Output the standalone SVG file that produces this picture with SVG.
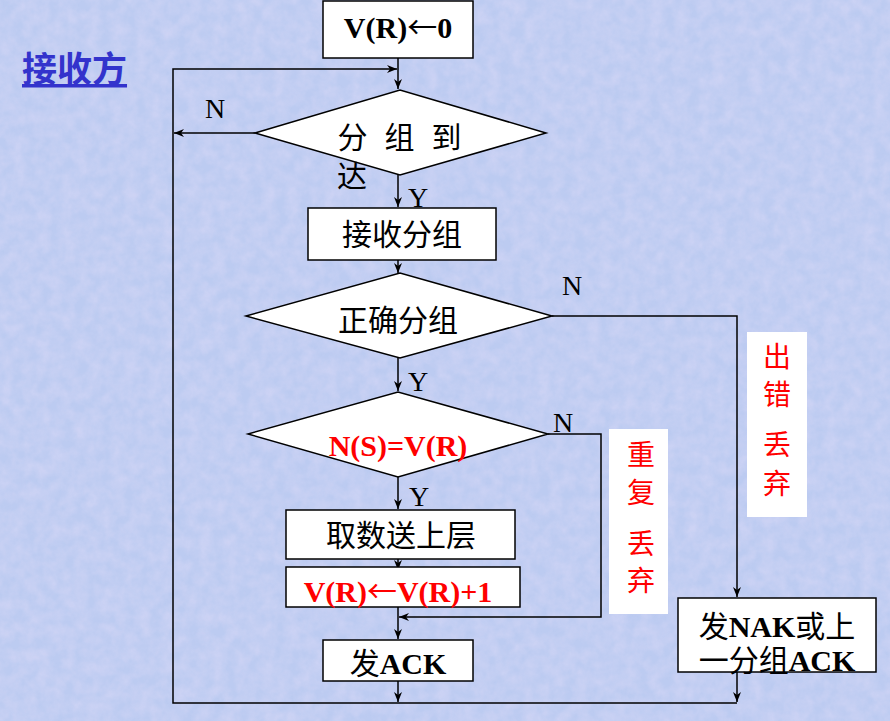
<svg xmlns="http://www.w3.org/2000/svg" width="890" height="721" viewBox="0 0 890 721">
<style>
.bx{fill:#fff;stroke:#000;stroke-width:1.5}
.ln{fill:none;stroke:#000;stroke-width:1.5}
.t{font-family:"Liberation Serif","Noto Sans CJK SC",serif;font-size:30px;fill:#000;text-anchor:middle}
.b{font-weight:bold}
.r{fill:#f00}
.ar{font-family:"Noto Sans CJK SC",sans-serif;font-weight:normal}
.yn{font-family:"Liberation Serif",serif;font-size:28px;fill:#000}
.cj{font-family:"Noto Sans CJK SC",serif;font-size:28px;fill:#f00;text-anchor:middle}
</style>
<defs>
<filter id="tex" x="0" y="0" width="100%" height="100%">
<feTurbulence type="fractalNoise" baseFrequency="0.08" numOctaves="3" seed="4"/>
<feColorMatrix type="matrix" values="0 0 0 0 0.80  0 0 0 0 0.74  0 0 0 0 0.95  0 0 0 1.2 -0.3"/>
</filter>
<marker id="ar" markerWidth="10" markerHeight="10" refX="10" refY="5" orient="auto" markerUnits="userSpaceOnUse">
<path d="M0,1 L10,5 L0,9 L3,5 z" fill="#000"/>
</marker>
</defs>
<rect width="890" height="721" fill="#bccbf1"/>
<rect width="890" height="721" filter="url(#tex)" opacity="0.5"/>
<text x="22" y="82" style="font-family:'Noto Sans CJK SC',serif;font-size:35px;font-weight:bold;fill:#3333cc;text-decoration:underline">接收方</text>

<g id="connectors">
<path class="ln" d="M398,58 L398,89" marker-end="url(#ar)"/>
<path class="ln" d="M737,703 L173,703 L173,69 L397,69" marker-end="url(#ar)"/>
<path class="ln" d="M255,133 L174,133" marker-end="url(#ar)"/>
<path class="ln" d="M398,175 L398,207" marker-end="url(#ar)"/>
<path class="ln" d="M398,243 L398,273" marker-end="url(#ar)"/>
<path class="ln" d="M398,358 L398,391" marker-end="url(#ar)"/>
<path class="ln" d="M552,316 L737,316 L737,597" marker-end="url(#ar)"/>
<path class="ln" d="M398,477 L398,509" marker-end="url(#ar)"/>
<path class="ln" d="M398,543 L398,570" marker-end="url(#ar)"/>
<path class="ln" d="M548,434 L601,434 L601,617 L399,617" marker-end="url(#ar)"/>
<path class="ln" d="M398,607 L398,639" marker-end="url(#ar)"/>
<path class="ln" d="M398,672 L398,702" marker-end="url(#ar)"/>
<path class="ln" d="M737,672 L737,702" marker-end="url(#ar)"/>
</g>

<g id="init">
<rect class="bx" x="323" y="1" width="150" height="57"/>
<text class="t b" x="398" y="38"><tspan>V(R)</tspan><tspan class="ar">←</tspan><tspan>0</tspan></text>
</g>

<g id="d1">
<polygon class="bx" points="255,133 400,90 546,133 400,175"/>
<text class="t" x="408" y="148" style="letter-spacing:17px">分组到</text>
<text class="t" x="352" y="187">达</text>
</g>
<text class="yn" x="205" y="118">N</text>
<text class="yn" x="408" y="207">Y</text>

<g id="recv">
<rect class="bx" x="308" y="208" width="188" height="52"/>
<text class="t" x="402" y="245">接收分组</text>
</g>

<g id="d2">
<polygon class="bx" points="246,316 400,273 552,316 400,358"/>
<text class="t" x="398" y="331">正确分组</text>
</g>
<text class="yn" x="562" y="295">N</text>
<text class="yn" x="408" y="391">Y</text>

<g id="d3">
<polygon class="bx" points="248,434 398,392 548,434 398,477"/>
<text class="t b r" x="398" y="456">N(S)=V(R)</text>
</g>
<text class="yn" x="553" y="432">N</text>
<text class="yn" x="409" y="506">Y</text>

<g id="deliver">
<rect class="bx" x="286" y="510" width="229" height="49"/>
<text class="t" x="401" y="546">取数送上层</text>
</g>

<g id="inc">
<rect class="bx" x="286" y="567" width="234" height="40"/>
<text class="t b r" x="398" y="602"><tspan>V(R)</tspan><tspan class="ar">←</tspan><tspan>V(R)+1</tspan></text>
</g>

<g id="ack">
<rect class="bx" x="323" y="640" width="150" height="41"/>
<text class="t" x="398" y="674"><tspan>发</tspan><tspan class="b">ACK</tspan></text>
</g>

<g id="nak">
<rect class="bx" x="678" y="598" width="198" height="74"/>
<text class="t" x="777" y="637"><tspan>发</tspan><tspan class="b">NAK</tspan><tspan>或上</tspan></text>
<text class="t" x="777" y="671"><tspan>一分组</tspan><tspan class="b">ACK</tspan></text>
</g>

<g id="dup">
<rect x="609" y="429" width="59" height="185" fill="#fff"/>
<text class="cj" x="641" y="465">重</text>
<text class="cj" x="641" y="503">复</text>
<text class="cj" x="641" y="554">丢</text>
<text class="cj" x="641" y="591">弃</text>
</g>

<g id="err">
<rect x="747" y="332" width="60" height="185" fill="#fff"/>
<text class="cj" x="777" y="367">出</text>
<text class="cj" x="777" y="405">错</text>
<text class="cj" x="777" y="455">丢</text>
<text class="cj" x="777" y="494">弃</text>
</g>
</svg>
